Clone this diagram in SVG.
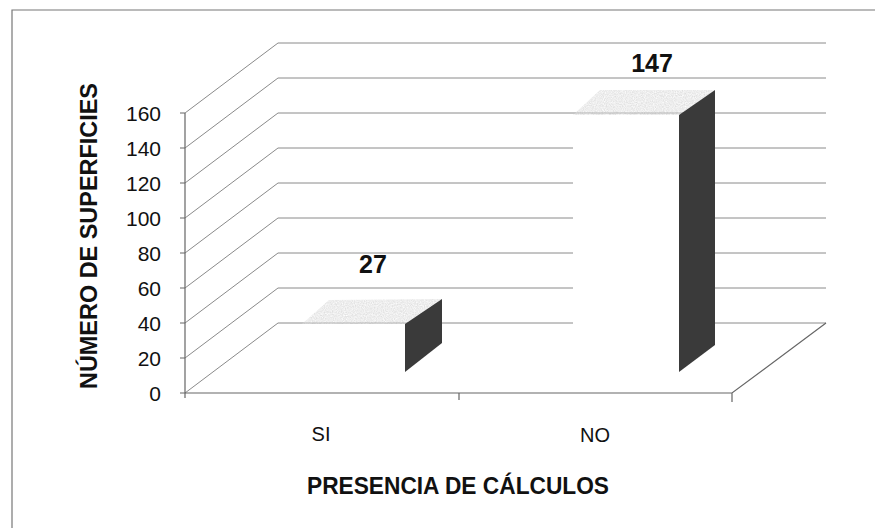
<svg xmlns="http://www.w3.org/2000/svg" width="875" height="528" viewBox="0 0 875 528">
<style>
.frame{stroke:#777;stroke-width:1.2;fill:none}
.grid{stroke:#8a8a8a;stroke-width:1;fill:none}
.axis{stroke:#666;stroke-width:1.2;fill:none}
.tick{font-family:"Liberation Sans",Arial,sans-serif;font-size:21px;fill:#111;text-anchor:end}
.cat{font-family:"Liberation Sans",Arial,sans-serif;font-size:20px;fill:#111;text-anchor:middle}
.title{font-family:"Liberation Sans",Arial,sans-serif;font-size:23px;font-weight:bold;fill:#111;text-anchor:middle}
.val{font-family:"Liberation Sans",Arial,sans-serif;font-size:25px;font-weight:bold;fill:#111;text-anchor:middle}
.top{fill:#dcdcdc}
.side{fill:#3a3a3a}
.front{fill:#ffffff}
</style>
<defs>
<filter id="grain" x="0" y="0" width="100%" height="100%">
<feTurbulence type="fractalNoise" baseFrequency="0.9" numOctaves="2" seed="3" result="n"/>
<feColorMatrix in="n" type="matrix" values="0 0 0 0 0.5  0 0 0 0 0.5  0 0 0 0 0.5  0 0 0 -1.2 1.1" result="m"/>
<feComposite in="SourceGraphic" in2="m" operator="in"/>
</filter>
</defs>
<rect width="875" height="528" fill="#fff"/>
<path class="frame" d="M12,528 V10 H875"/>
<g id="walls">
<path class="grid" d="M185,393 L278,323 H826 M185,358 L278,288 H826 M185,323 L278,253 H826 M185,288 L278,218 H826 M185,253 L278,183 H826 M185,218 L278,148 H826 M185,183 L278,113 H826 M185,148 L278,78 H826 M185,113 L278,43 H826"/>
<path class="axis" d="M185,113 V398 M180,113 H185 M180,148 H185 M180,183 H185 M180,218 H185 M180,253 H185 M180,288 H185 M180,323 H185 M180,358 H185 M180,393 H185"/>
<path class="axis" d="M185,393 H732 L826,323 M459,393 V400 M732,393 V402"/>
</g>
<g id="y-ticks">
<text class="tick" x="161" y="121">160</text>
<text class="tick" x="161" y="156">140</text>
<text class="tick" x="161" y="191">120</text>
<text class="tick" x="161" y="226">100</text>
<text class="tick" x="161" y="261">80</text>
<text class="tick" x="161" y="296">60</text>
<text class="tick" x="161" y="331">40</text>
<text class="tick" x="161" y="366">20</text>
<text class="tick" x="161" y="401">0</text>
</g>
<g id="bar-si">
<rect class="front" x="302" y="324" width="103" height="48"/>
<polygon class="top" filter="url(#grain)" points="302,324 329,300 442,299 405,324"/>
<polygon class="side" points="405,324 442,299 442,343 405,372"/>
<text class="val" x="373" y="273">27</text>
</g>
<g id="bar-no">
<rect class="front" x="573" y="115" width="106" height="257"/>
<polygon class="top" filter="url(#grain)" points="573,115 600,90 715,90 679,115"/>
<polygon class="side" points="679,115 715,90 715,345 679,372"/>
<text class="val" x="652" y="72">147</text>
</g>
<g id="labels">
<text class="cat" x="321" y="441">SI</text>
<text class="cat" x="595" y="442">NO</text>
<text class="title" x="458" y="494" textLength="302" lengthAdjust="spacingAndGlyphs">PRESENCIA DE CÁLCULOS</text>
<text class="title" transform="translate(97,236) rotate(-90)" x="0" y="0" textLength="306" lengthAdjust="spacingAndGlyphs">NÚMERO DE SUPERFICIES</text>
</g>
</svg>
